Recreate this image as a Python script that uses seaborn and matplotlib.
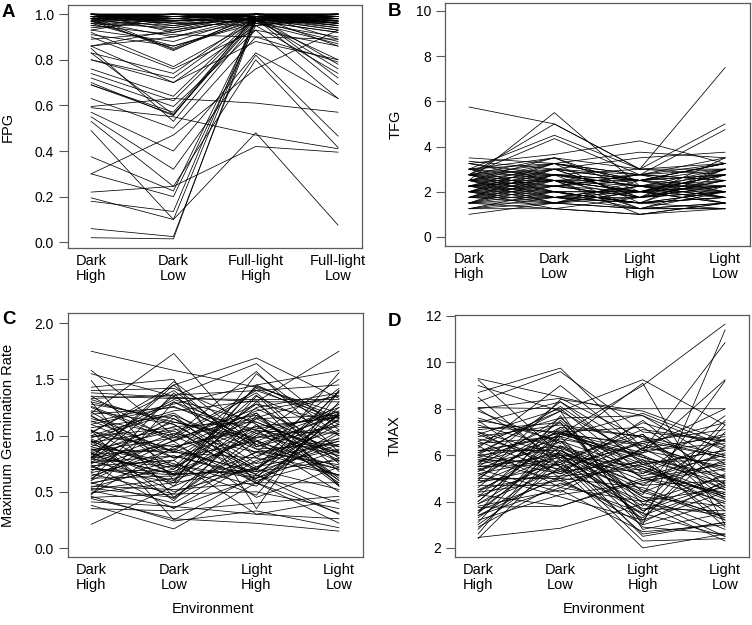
import matplotlib
matplotlib.use('Agg')
import matplotlib.pyplot as plt
import seaborn as sns
import pandas as pd

# each row = one genotype across the four environments
envs_fpg = ['Dark\nHigh', 'Dark\nLow', 'Full-light\nHigh', 'Full-light\nLow']
envs = ['Dark\nHigh', 'Dark\nLow', 'Light\nHigh', 'Light\nLow']

fpg_rows = [
    (1.00, 1.00, 1.00, 1.00), (1.00, 0.99, 1.00, 1.00), (0.99, 1.00, 1.00, 0.99),
    (1.00, 0.98, 1.00, 0.98), (0.99, 0.99, 0.99, 1.00), (0.98, 1.00, 1.00, 0.99),
    (1.00, 0.97, 0.99, 1.00), (0.99, 0.98, 1.00, 0.97), (0.98, 0.99, 0.98, 1.00),
    (1.00, 0.99, 0.99, 0.96), (0.97, 0.98, 1.00, 0.99), (0.99, 0.96, 1.00, 0.98),
    (1.00, 0.95, 0.98, 0.99), (0.98, 0.97, 0.99, 0.95), (0.97, 1.00, 0.97, 0.98),
    (0.99, 0.94, 1.00, 1.00), (1.00, 0.98, 0.96, 0.97), (0.96, 0.99, 0.99, 0.99),
    (0.98, 0.93, 1.00, 0.96), (1.00, 1.00, 0.99, 0.94), (0.99, 0.97, 0.98, 0.93),
    (0.97, 0.95, 1.00, 0.97), (0.95, 0.98, 0.99, 1.00), (1.00, 0.92, 0.99, 0.98),
    (0.98, 0.96, 0.97, 0.92), (0.96, 0.94, 1.00, 0.99), (0.99, 0.99, 1.00, 0.89),
    (0.97, 0.90, 0.99, 0.95), (0.94, 0.97, 0.98, 1.00), (1.00, 0.96, 0.95, 0.99),
    (1.00, 1.00, 1.00, 0.99), (0.99, 1.00, 0.99, 1.00), (1.00, 0.99, 0.98, 1.00),
    (0.98, 0.98, 1.00, 1.00), (0.99, 1.00, 0.97, 0.96), (1.00, 0.97, 1.00, 0.98),
    (0.97, 0.85, 0.99, 0.98), (0.98, 0.84, 1.00, 0.96), (0.99, 0.845, 0.98, 0.93),
    (0.96, 0.86, 0.97, 0.88), (0.93, 0.88, 0.99, 0.86), (0.91, 0.86, 0.96, 0.90),
    (0.86, 0.93, 0.98, 0.97), (0.86, 0.90, 0.97, 0.99), (0.89, 0.92, 0.99, 0.96),
    (0.93, 0.99, 0.98, 0.94), (0.92, 0.77, 0.97, 0.80), (0.83, 0.74, 0.99, 0.78),
    (0.80, 0.72, 0.98, 0.76), (0.86, 0.70, 0.95, 0.74), (0.76, 0.64, 0.99, 0.72),
    (0.74, 0.62, 0.98, 0.69), (0.72, 0.595, 0.93, 0.63), (0.69, 0.57, 0.99, 0.97),
    (0.69, 0.56, 0.98, 0.95), (0.70, 0.555, 1.00, 0.99), (0.83, 0.56, 0.97, 0.92),
    (0.85, 0.53, 0.96, 0.87), (0.63, 0.50, 0.90, 0.89), (0.595, 0.63, 0.61, 0.57),
    (0.57, 0.40, 0.83, 0.63), (0.55, 0.32, 0.82, 0.465), (0.53, 0.245, 0.80, 0.415),
    (0.59, 0.55, 0.47, 0.41), (0.30, 0.47, 0.76, 0.93), (0.49, 0.10, 0.98, 0.96),
    (0.375, 0.225, 0.97, 0.99), (0.30, 0.20, 0.95, 0.98), (0.22, 0.245, 0.42, 0.395),
    (0.195, 0.10, 0.48, 0.075), (0.18, 0.135, 0.99, 0.97), (0.06, 0.025, 0.97, 0.99),
    (0.02, 0.015, 0.99, 1.00), (0.80, 0.70, 0.88, 0.80), (0.90, 0.76, 0.93, 0.86),
    (0.95, 0.91, 0.90, 0.79),
]

tfg_rows = [
    (5.75, 5.0, 3.0, 3.25), (2.5, 5.5, 2.25, 3.0), (2.75, 5.0, 3.0, 7.5),
    (3.0, 4.5, 3.0, 5.0), (2.75, 4.35, 2.75, 4.75), (3.25, 3.65, 4.25, 3.25),
    (3.5, 3.25, 3.75, 3.5), (3.35, 3.0, 3.5, 3.75), (1.0, 1.5, 2.0, 1.75),
    (1.25, 1.25, 1.0, 1.25), (1.5, 1.25, 1.0, 1.5), (1.5, 1.75, 1.5, 1.25),
    (1.75, 2.0, 1.25, 1.5), (2.0, 2.25, 1.75, 2.0), (2.25, 2.5, 2.0, 2.25),
    (2.5, 2.75, 2.25, 2.5), (2.75, 3.0, 2.5, 2.75), (3.0, 3.25, 2.75, 3.0),
    (1.25, 1.5, 1.25, 1.5), (1.5, 2.0, 1.5, 1.75), (1.75, 1.5, 2.0, 2.25),
    (2.0, 1.75, 2.25, 1.5), (2.25, 2.0, 1.5, 2.75), (2.5, 2.25, 2.75, 2.0),
    (2.75, 2.5, 2.0, 3.0), (3.0, 2.75, 2.5, 2.25), (1.5, 2.5, 1.75, 2.0),
    (1.75, 2.75, 2.25, 1.75), (2.0, 3.0, 1.75, 2.5), (2.25, 3.25, 2.5, 3.25),
    (2.5, 3.5, 2.0, 2.75), (2.75, 2.25, 1.75, 3.5), (3.0, 2.0, 1.5, 2.0),
    (2.0, 1.5, 1.25, 1.25), (2.25, 1.75, 2.0, 1.5), (2.5, 2.0, 1.5, 1.75),
    (2.75, 1.75, 2.25, 2.25), (1.75, 2.25, 2.5, 3.0), (1.5, 2.25, 2.0, 2.5),
    (2.0, 2.5, 2.5, 2.0), (2.25, 2.75, 1.25, 2.25), (2.5, 3.0, 2.75, 3.25),
    (1.25, 1.75, 1.5, 2.0), (1.75, 3.0, 2.5, 2.75), (2.0, 2.75, 3.0, 3.0),
    (2.25, 2.5, 2.25, 1.75), (2.5, 1.75, 1.75, 2.5), (2.75, 2.0, 2.0, 1.5),
    (3.0, 3.5, 2.25, 2.75), (1.5, 1.5, 1.75, 2.25), (1.75, 1.75, 1.25, 2.0),
    (2.0, 2.0, 2.0, 2.75), (2.25, 2.25, 2.75, 2.5), (2.5, 2.5, 1.25, 1.25),
    (2.75, 2.75, 2.0, 2.0), (2.0, 3.25, 2.5, 1.75), (2.25, 3.0, 1.75, 3.0),
    (1.5, 2.75, 2.25, 2.25), (2.5, 1.5, 2.5, 3.25), (2.75, 3.25, 2.75, 2.5),
    (3.25, 2.5, 2.0, 2.75), (1.75, 2.5, 1.0, 1.5), (2.0, 1.25, 1.75, 2.25),
    (2.25, 1.5, 2.25, 2.0), (2.5, 3.25, 1.5, 3.0), (3.0, 2.5, 2.75, 3.5),
    (2.75, 3.5, 3.0, 2.75), (3.25, 2.75, 2.5, 3.25), (1.25, 2.0, 1.5, 1.75),
]

mgr_rows = [
    (1.75, 1.58, 1.43, 1.20), (1.20, 1.73, 0.90, 1.10), (0.80, 1.45, 1.69, 1.33),
    (0.95, 0.70, 1.30, 1.75), (1.58, 1.00, 1.57, 0.85), (1.55, 1.35, 1.64, 1.05),
    (1.49, 0.60, 1.45, 1.58), (1.43, 1.50, 0.35, 1.40), (1.40, 1.42, 1.10, 0.55),
    (1.38, 1.34, 1.30, 1.30), (1.35, 1.33, 1.32, 1.32), (1.33, 1.36, 1.40, 1.15),
    (1.30, 0.45, 1.00, 1.50), (1.28, 1.15, 0.85, 1.42), (1.25, 0.95, 1.20, 0.60),
    (1.22, 1.10, 0.70, 1.25), (1.19, 1.25, 1.05, 0.90), (1.17, 0.85, 1.15, 1.18),
    (1.15, 1.00, 0.65, 0.30), (1.12, 1.28, 1.45, 1.12), (1.10, 0.80, 0.95, 1.22),
    (1.07, 1.18, 0.60, 0.80), (1.05, 0.65, 1.25, 1.38), (1.03, 1.40, 0.88, 0.70),
    (1.00, 0.90, 1.08, 1.16), (0.98, 1.20, 0.75, 0.95), (0.96, 0.55, 1.35, 1.00),
    (0.94, 1.05, 1.18, 0.62), (0.92, 0.75, 0.55, 1.20), (0.90, 1.30, 1.02, 0.85),
    (0.88, 0.85, 0.80, 1.28), (0.86, 0.98, 1.38, 0.75), (0.85, 0.50, 0.72, 1.10),
    (0.84, 1.12, 0.95, 0.50), (0.83, 0.88, 1.22, 1.35), (0.82, 0.66, 0.68, 0.92),
    (0.81, 1.08, 1.12, 0.82), (0.80, 0.92, 0.58, 1.02), (0.79, 0.72, 1.05, 0.58),
    (0.78, 1.35, 0.92, 1.18), (0.77, 0.60, 1.15, 0.78), (0.76, 0.82, 0.62, 1.40),
    (0.75, 1.02, 0.85, 0.65), (0.74, 0.35, 0.78, 0.95), (0.73, 0.78, 1.28, 1.12),
    (0.72, 0.95, 0.45, 0.72), (0.70, 0.68, 0.98, 1.25), (0.68, 1.15, 0.72, 0.88),
    (0.66, 0.48, 1.10, 0.60), (0.64, 0.88, 0.66, 1.15), (0.62, 0.64, 1.00, 0.82),
    (0.60, 1.38, 0.58, 0.58), (0.58, 0.40, 0.82, 1.05), (0.57, 0.78, 0.30, 0.43),
    (0.55, 0.52, 0.58, 0.22), (0.53, 0.45, 0.95, 0.72), (0.51, 0.36, 0.62, 0.98),
    (0.49, 0.58, 0.70, 0.52), (0.47, 1.30, 0.90, 1.20), (0.46, 0.24, 0.33, 0.18),
    (0.45, 0.48, 0.50, 0.35), (0.44, 0.26, 0.22, 0.15), (0.41, 0.37, 0.30, 0.26),
    (0.38, 0.17, 0.58, 0.31), (0.35, 0.33, 0.40, 0.46), (0.21, 0.55, 0.85, 0.97),
    (1.02, 1.45, 0.80, 0.65), (0.88, 0.58, 1.55, 1.00), (1.32, 1.10, 0.70, 1.18),
    (0.62, 1.00, 1.40, 1.45), (1.05, 0.25, 0.65, 0.40), (0.95, 0.42, 1.18, 0.85),
    (0.80, 1.48, 0.92, 0.70), (1.13, 0.86, 1.42, 1.10), (0.70, 0.65, 0.70, 1.56),
    (0.58, 0.70, 1.20, 0.56), (1.35, 0.95, 1.28, 0.80), (0.90, 0.73, 0.47, 1.30),
    (0.48, 0.90, 1.06, 1.17), (1.00, 1.22, 1.31, 0.55),
    (1.30, 1.12, 0.98, 1.08), (0.84, 0.65, 1.02, 1.21), (1.04, 0.86, 0.68, 0.78),
    (0.76, 1.18, 0.88, 0.92), (0.52, 0.62, 0.76, 1.14), (1.18, 0.72, 1.36, 0.68),
    (0.93, 1.32, 1.12, 0.84), (0.67, 0.82, 0.64, 1.04), (1.26, 0.98, 1.16, 1.36),
    (0.81, 0.44, 0.86, 0.74), (0.99, 1.07, 0.57, 1.19), (0.60, 0.96, 1.24, 0.90),
    (1.10, 1.26, 0.96, 0.64), (0.72, 0.58, 1.04, 1.02), (0.87, 1.04, 0.69, 1.39),
    (1.21, 0.80, 1.08, 0.77), (0.54, 0.74, 0.62, 0.87), (0.97, 0.66, 1.44, 1.16),
]

tmax_rows = [
    (9.30, 8.50, 7.70, 6.20), (9.25, 6.00, 5.50, 4.10), (9.00, 7.90, 9.25, 7.30),
    (8.70, 9.75, 6.30, 4.50), (8.50, 5.50, 3.50, 2.50), (8.30, 9.60, 7.00, 6.60),
    (8.05, 8.00, 8.00, 8.00), (8.00, 8.45, 6.70, 5.90), (7.90, 6.50, 9.10, 3.00),
    (7.50, 6.90, 9.00, 11.65), (7.50, 5.00, 3.00, 11.40), (7.40, 8.30, 6.20, 10.85),
    (7.20, 7.00, 6.10, 9.25), (7.00, 6.00, 4.30, 9.20), (6.90, 8.00, 5.20, 7.70),
    (6.80, 7.30, 6.80, 6.00), (6.60, 5.20, 7.50, 4.70), (6.50, 6.80, 5.80, 3.20),
    (6.30, 9.00, 6.20, 5.50), (6.20, 6.20, 4.70, 6.70), (6.10, 7.90, 2.80, 3.50),
    (6.00, 5.40, 6.60, 7.10), (6.00, 6.40, 5.30, 4.30), (5.90, 7.00, 7.20, 5.00),
    (5.80, 4.90, 3.30, 6.40), (5.70, 6.70, 6.00, 2.90), (5.60, 8.30, 5.60, 6.20),
    (5.50, 5.60, 4.00, 4.60), (5.50, 7.60, 7.70, 5.60), (5.40, 6.10, 2.50, 3.10),
    (5.40, 4.40, 6.30, 6.80), (5.30, 7.20, 5.00, 4.00), (5.20, 5.90, 3.80, 7.50),
    (5.10, 6.90, 6.50, 5.30), (5.00, 5.00, 4.60, 3.30), (4.90, 8.40, 7.90, 6.60),
    (4.80, 6.30, 2.90, 2.60), (4.70, 4.70, 5.80, 4.80), (4.60, 7.50, 4.40, 5.80),
    (4.50, 5.30, 6.90, 3.70), (4.40, 6.60, 3.20, 4.40), (4.30, 3.80, 4.90, 6.10),
    (4.20, 5.70, 2.30, 2.40), (4.00, 7.00, 5.50, 4.20), (3.90, 6.00, 3.60, 5.20),
    (3.80, 4.50, 2.70, 3.00), (3.75, 3.80, 5.00, 5.60), (3.60, 5.00, 6.20, 6.50),
    (3.50, 6.40, 4.20, 2.80), (3.50, 7.70, 3.00, 4.00), (3.40, 5.10, 5.40, 3.90),
    (3.30, 5.80, 2.60, 3.10), (3.20, 4.30, 4.80, 5.70), (3.10, 6.90, 6.00, 4.50),
    (3.00, 5.50, 2.00, 2.60), (2.90, 4.80, 3.50, 7.30), (2.80, 6.20, 4.50, 3.20),
    (2.60, 6.80, 3.10, 4.90), (2.40, 5.90, 5.20, 6.70), (2.45, 2.85, 3.90, 2.30),
    (7.60, 6.60, 5.40, 4.20), (7.10, 7.40, 3.90, 3.40), (6.40, 4.60, 6.30, 8.00),
    (6.00, 8.10, 5.70, 3.60), (5.50, 6.00, 3.40, 4.70), (4.80, 5.60, 7.40, 6.30),
    (4.00, 6.90, 5.90, 5.10), (3.60, 6.20, 4.10, 2.50), (5.90, 5.20, 6.10, 6.90),
    (6.60, 7.60, 5.00, 4.40), (8.00, 5.80, 4.40, 3.40), (5.20, 4.20, 3.20, 7.00),
    (6.20, 6.80, 7.80, 6.40), (4.20, 7.20, 6.80, 4.60), (7.00, 5.30, 5.70, 5.80),
    (6.10, 6.95, 6.40, 5.40), (5.60, 6.35, 5.10, 6.00), (4.50, 6.10, 4.70, 4.90),
    (6.70, 5.90, 6.90, 4.10), (5.00, 7.10, 5.60, 6.20), (3.90, 5.40, 3.70, 3.60),
    (7.30, 6.30, 4.90, 5.40), (5.80, 5.70, 7.10, 6.60), (4.40, 4.90, 5.60, 4.30),
    (6.40, 7.90, 5.90, 5.00), (5.30, 6.60, 4.20, 3.80), (3.40, 4.60, 4.00, 5.10),
    (6.90, 5.50, 6.50, 7.40), (5.70, 7.40, 3.60, 4.80), (4.90, 5.10, 6.60, 5.90),
]

sns.set_style('white')
plt.rcParams['font.family'] = ['Liberation Sans', 'DejaVu Sans']
plt.rcParams['text.color'] = 'black'

W, H = 752, 625
BOX = '#5a5a5a'


def to_long(rows):
    recs = []
    for g, row in enumerate(rows):
        for i, v in enumerate(row):
            recs.append({'genotype': g, 'env': i + 1, 'value': v})
    return pd.DataFrame(recs)


def draw_panel(fig, box, rows, labels, ylabel, yticks, yticklabels, ylim, letter, letter_xy, ylab_x):
    x0, y0, x1, y1 = box
    ax = fig.add_axes([x0 / W, 1 - y1 / H, (x1 - x0) / W, (y1 - y0) / H])
    df = to_long(rows)
    sns.lineplot(data=df, x='env', y='value', units='genotype', estimator=None,
                 color='black', lw=0.55, ax=ax, legend=False)
    ax.set_xlim(0.72, 4.29)
    ax.set_ylim(*ylim)
    ax.set_xticks([1, 2, 3, 4])
    ax.set_xticklabels(labels)
    ax.set_yticks(yticks)
    ax.set_yticklabels(yticklabels)
    ax.set_xlabel('')
    ax.set_ylabel('')
    for s in ax.spines.values():
        s.set_visible(True)
        s.set_color(BOX)
        s.set_linewidth(0.9)
    ax.tick_params(axis='y', left=True, length=6.5, width=0.8, color=BOX, pad=3.5,
                   labelsize=10, labelcolor='black')
    ax.tick_params(axis='x', bottom=False, length=0, pad=4, labelsize=10.5, labelcolor='black')
    for t in ax.get_xticklabels():
        t.set_linespacing(1.15)
    fig.text(ylab_x / W, 1 - (y0 + y1) / 2 / H, ylabel, rotation=90,
             ha='center', va='center', fontsize=10.5, color='black')
    fig.text(letter_xy[0] / W, 1 - letter_xy[1] / H, letter, fontsize=13.5,
             fontweight='bold', ha='left', va='top', color='black')
    return ax


fig = plt.figure(figsize=(W / 100, H / 100), dpi=100)

draw_panel(fig, (68, 5, 362, 248), fpg_rows, envs_fpg, 'FPG',
           [0, 0.2, 0.4, 0.6, 0.8, 1.0], ['0.0', '0.2', '0.4', '0.6', '0.8', '1.0'],
           (-0.025, 1.04), 'A', (2, 4), 8)
draw_panel(fig, (445, 3, 750, 246), tfg_rows, envs, 'TFG',
           [0, 2, 4, 6, 8, 10], ['0', '2', '4', '6', '8', '10'],
           (-0.4, 10.35), 'B', (388, 3), 396)
draw_panel(fig, (68, 313, 363, 557), mgr_rows, envs, 'Maximum Germination Rate',
           [0, 0.5, 1.0, 1.5, 2.0], ['0.0', '0.5', '1.0', '1.5', '2.0'],
           (-0.08, 2.09), 'C', (2, 311), 8)
draw_panel(fig, (455, 315, 749, 557), tmax_rows, envs, 'TMAX',
           [2, 4, 6, 8, 10, 12], ['2', '4', '6', '8', '10', '12'],
           (1.61, 12.04), 'D', (388, 313), 395)

fig.text(213 / W, 1 - 609 / H, 'Environment', ha='center', va='center', fontsize=10.5)
fig.text(604 / W, 1 - 609 / H, 'Environment', ha='center', va='center', fontsize=10.5)

fig.savefig('out.png', dpi=100)
